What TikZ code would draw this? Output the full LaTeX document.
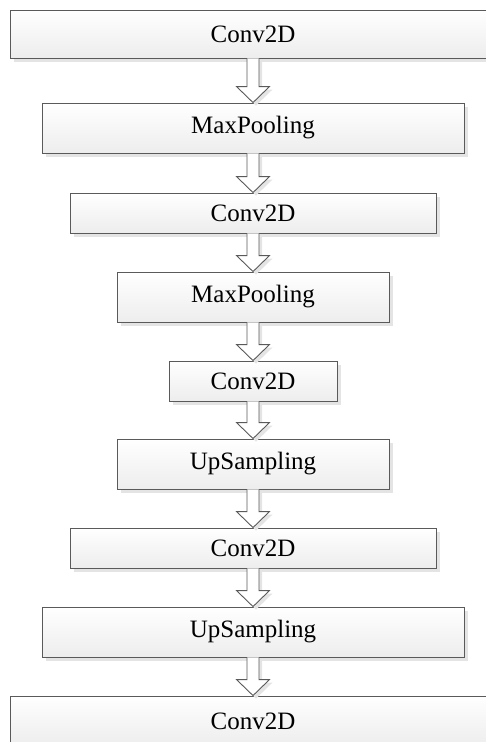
\documentclass[tikz,border=0pt]{standalone}
\usepackage{fontspec}
\setmainfont{Liberation Serif}
\usetikzlibrary{calc,shadows}
\definecolor{edgegray}{HTML}{5A5A5A}
\definecolor{shadowgray}{HTML}{E4E4E4}
\definecolor{boxbottom}{HTML}{EDEDED}
\tikzset{
  layerbox/.style={rectangle, draw=edgegray, line width=0.9pt, inner sep=0pt,
    top color=white, bottom color=boxbottom, minimum height=#1,
    font=\fontsize{25}{30}\selectfont,
    drop shadow={shadow xshift=4pt, shadow yshift=-4pt, fill=shadowgray, opacity=1}},
  arrowbody/.style={fill=white, draw=edgegray, line width=0.9pt, line join=miter},
  arrowshadow/.style={fill=shadowgray, draw=none}
}
\newcommand\blockarrow[2]{%
  \path let \p1=(#1.south), \p2=(#2.north) in
    [arrowshadow] (\x1-6pt+3pt,\y1-1pt) -- (\x1-6pt+3pt,\y2+16pt-3pt) -- (\x1-16.5pt+3pt,\y2+16pt-3pt)
      -- (\x1+3pt,\y2-3pt) -- (\x1+16.5pt+3pt,\y2+16pt-3pt) -- (\x1+6pt+3pt,\y2+16pt-3pt) -- (\x1+6pt+3pt,\y1-1pt) -- cycle;
  \path let \p1=(#1.south), \p2=(#2.north) in
    [fill=white] (\x1-6pt,\y1) -- (\x1-6pt,\y2+16pt) -- (\x1-16.5pt,\y2+16pt)
      -- (\x1,\y2) -- (\x1+16.5pt,\y2+16pt) -- (\x1+6pt,\y2+16pt) -- (\x1+6pt,\y1) -- cycle;
  \draw let \p1=(#1.south), \p2=(#2.north) in
    [arrowbody, fill=none] (\x1-6pt,\y1) -- (\x1-6pt,\y2+16pt) -- (\x1-16.5pt,\y2+16pt)
      -- (\x1,\y2) -- (\x1+16.5pt,\y2+16pt) -- (\x1+6pt,\y2+16pt) -- (\x1+6pt,\y1);
}
\begin{document}
\begin{tikzpicture}[x=1pt,y=-1pt]
\useasboundingbox (0,0) rectangle (486,742);
\clip (0,0) rectangle (486,742);
\node[layerbox=48pt, minimum width=486pt] (b1) at (253,34) {Conv2D};
\node[layerbox=50pt, minimum width=422pt] (b2) at (253,128) {MaxPooling};
\node[layerbox=40pt, minimum width=366pt] (b3) at (253,213) {Conv2D};
\node[layerbox=50pt, minimum width=272pt] (b4) at (253,297) {MaxPooling};
\node[layerbox=40pt, minimum width=168pt] (b5) at (253,381) {Conv2D};
\node[layerbox=50pt, minimum width=272pt] (b6) at (253,464) {UpSampling};
\node[layerbox=40pt, minimum width=366pt] (b7) at (253,548) {Conv2D};
\node[layerbox=50pt, minimum width=422pt] (b8) at (253,632) {UpSampling};
\node[layerbox=50pt, minimum width=486pt] (b9) at (253,721) {Conv2D};
\blockarrow{b1}{b2}
\blockarrow{b2}{b3}
\blockarrow{b3}{b4}
\blockarrow{b4}{b5}
\blockarrow{b5}{b6}
\blockarrow{b6}{b7}
\blockarrow{b7}{b8}
\blockarrow{b8}{b9}
\end{tikzpicture}
\end{document}
